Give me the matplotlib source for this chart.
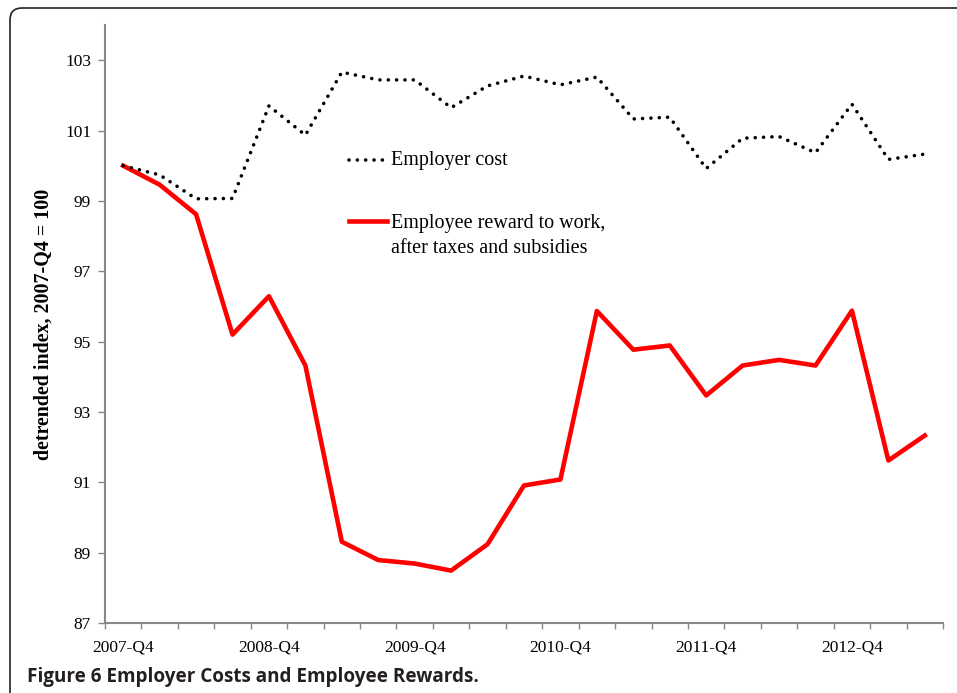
import matplotlib
matplotlib.use("Agg")
import matplotlib.pyplot as plt
import matplotlib.patches as mpatches

# quarters 2007-Q4 .. 2013-Q2
quarters = ['2007-Q4', '2008-Q1', '2008-Q2', '2008-Q3', '2008-Q4', '2009-Q1', '2009-Q2', '2009-Q3',
            '2009-Q4', '2010-Q1', '2010-Q2', '2010-Q3', '2010-Q4', '2011-Q1', '2011-Q2', '2011-Q3',
            '2011-Q4', '2012-Q1', '2012-Q2', '2012-Q3', '2012-Q4', '2013-Q1', '2013-Q2']

employer_cost = [100.0, 99.74, 99.06, 99.07, 101.70, 100.87, 102.66, 102.44, 102.44, 101.65,
                 102.27, 102.55, 102.30, 102.52, 101.33, 101.38, 99.92, 100.78, 100.83, 100.37,
                 101.75, 100.18, 100.33]

employee_reward = [100.0, 99.46, 98.62, 95.20, 96.29, 94.32, 89.31, 88.79, 88.69, 88.49,
                   89.24, 90.91, 91.08, 95.87, 94.77, 94.89, 93.47, 94.32, 94.48, 94.32,
                   95.88, 91.62, 92.33]

label_every = 4
yticks = list(range(87, 104, 2))

plt.rcParams['font.family'] = ['Liberation Serif', 'DejaVu Serif']
plt.rcParams['font.size'] = 12.5

fig = plt.figure(figsize=(9.57, 6.93), dpi=100)
ax = fig.add_axes([0.1097, 0.1010, 0.8757, 0.8629])

dotted = dict(color='black', lw=2.6, dashes=(0.01, 2.3), dash_capstyle='round')
red = dict(color='#ff0000', lw=3.3)

x = list(range(len(quarters)))
ax.plot(x, employee_reward, **red)
ax.plot(x, employer_cost, **dotted)

ax.set_xlim(-0.5, len(quarters) - 0.5)
ax.set_ylim(87, 104)
ax.set_yticks(yticks)

# category labels, boundary tick marks
ax.set_xticks(x[::label_every])
ax.set_xticklabels(quarters[::label_every])
ax.set_xticks([i - 0.5 for i in range(len(quarters) + 1)], minor=True)
ax.tick_params(axis='x', which='major', length=0, pad=12, labelsize=12.5)
ax.tick_params(axis='x', which='minor', length=4, width=1, color='#888888', direction='out')
ax.tick_params(axis='y', length=5, width=1, color='#888888', pad=5, labelsize=12.5)

for side in ['top', 'right']:
    ax.spines[side].set_visible(False)
for side in ['left', 'bottom']:
    ax.spines[side].set_color('#888888')
    ax.spines[side].set_linewidth(1.5)

ax.set_ylabel('detrended index, 2007-Q4 = 100', fontsize=14.4, fontweight='bold')
ax.yaxis.set_label_coords(-0.061, 0.5)

# legend drawn by hand to keep the handle on the first text line
ax.plot([0.2912, 0.3365], [0.7742, 0.7742], transform=ax.transAxes, clip_on=False, **dotted)
ax.text(0.3413, 0.7742, 'Employer cost', transform=ax.transAxes, fontsize=14.5,
        va='center', ha='left')
ax.plot([0.2912, 0.3365], [0.6722, 0.6722], transform=ax.transAxes, clip_on=False, **red)
ax.text(0.3413, 0.6475, 'Employee reward to work,\nafter taxes and subsidies',
        transform=ax.transAxes, fontsize=14.5, va='center', ha='left', linespacing=1.4)

# frame around the figure panel
frame = mpatches.FancyBboxPatch((0.10, -0.5), 10.0, 6.85 + 0.5,
                                boxstyle='round,pad=0,rounding_size=0.12',
                                transform=fig.dpi_scale_trans, fill=False,
                                ec='#222222', lw=1.2)
fig.patches.append(frame)

fig.text(27 / 957, 1 - 677 / 693, 'Figure 6 Employer Costs and Employee Rewards.',
         family=['Open Sans', 'DejaVu Sans'], fontweight='bold', fontsize=13.6,
         color='#231f20', va='center', ha='left')

fig.savefig('out.png', dpi=100)
